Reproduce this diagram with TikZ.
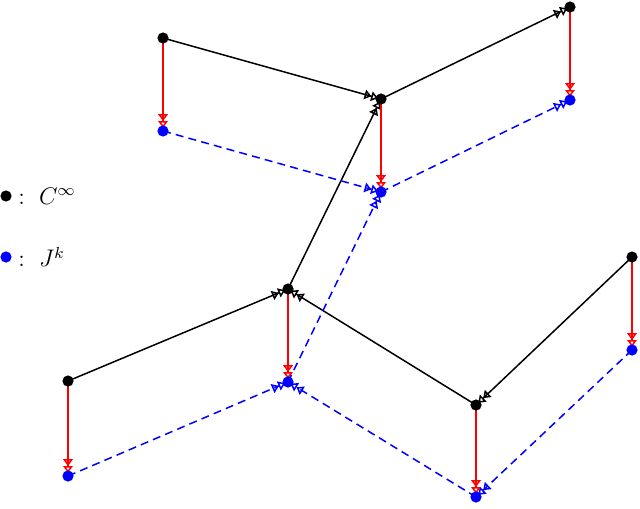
\documentclass[tikz,border=0pt]{standalone}
\usetikzlibrary{arrows.meta,backgrounds}
\begin{document}
\begin{tikzpicture}[x=0.5pt,y=-0.5pt,
  dotk/.style={circle,fill=black,inner sep=0pt,minimum size=5.6pt},
  dotb/.style={circle,fill=blue,inner sep=0pt,minimum size=5.6pt},
  tip/.style={-{Triangle[open,length=3.4pt,width=4.8pt]Triangle[open,length=3.4pt,width=4.8pt]},shorten >=1.6pt},
  kline/.style={tip,draw=black,line width=0.75pt},
  bline/.style={tip,draw=blue,line width=0.75pt,dash pattern=on 4pt off 2.6pt},
  rline/.style={tip,draw=red,line width=0.75pt}]
\useasboundingbox (0,0) rectangle (640,508);
\node[dotk] (A) at (163,38) {};
\node[dotk] (B) at (381,99) {};
\node[dotk] (C) at (570,7) {};
\node[dotk] (D) at (288,289) {};
\node[dotk] (E) at (68,381) {};
\node[dotk] (F) at (476,405) {};
\node[dotk] (G) at (632,257) {};
\node[dotb] (A2) at (163,131) {};
\node[dotb] (B2) at (381,192) {};
\node[dotb] (C2) at (570,100) {};
\node[dotb] (D2) at (288,382) {};
\node[dotb] (E2) at (68,476) {};
\node[dotb] (F2) at (476,497) {};
\node[dotb] (G2) at (632,350) {};
\begin{pgfonlayer}{background}
\draw[kline] (A.center) -- (B.center);
\draw[kline] (B.center) -- (C.center);
\draw[kline] (D.center) -- (B.center);
\draw[kline] (E.center) -- (D.center);
\draw[kline] (F.center) -- (D.center);
\draw[kline] (G.center) -- (F.center);
\draw[bline] (A2.center) -- (B2.center);
\draw[bline] (B2.center) -- (C2.center);
\draw[bline] (D2.center) -- (B2.center);
\draw[bline] (E2.center) -- (D2.center);
\draw[bline] (F2.center) -- (D2.center);
\draw[bline] (G2.center) -- (F2.center);
\foreach \n in {A,B,C,D,E,F,G}{\draw[rline] (\n.center) -- (\n2.center);}
\end{pgfonlayer}
\node[dotk] (L1) at (6,196) {};
\node[dotb] (L2) at (6,257) {};
\node[anchor=west,inner sep=0pt,font=\fontsize{11.5}{13}\selectfont] (T1) at (18,196) {$:\ C^\infty$};
\node[anchor=west,inner sep=0pt,font=\fontsize{11.5}{13}\selectfont] (T2) at (18,257) {$:\ J^k$};
\end{tikzpicture}
\end{document}
